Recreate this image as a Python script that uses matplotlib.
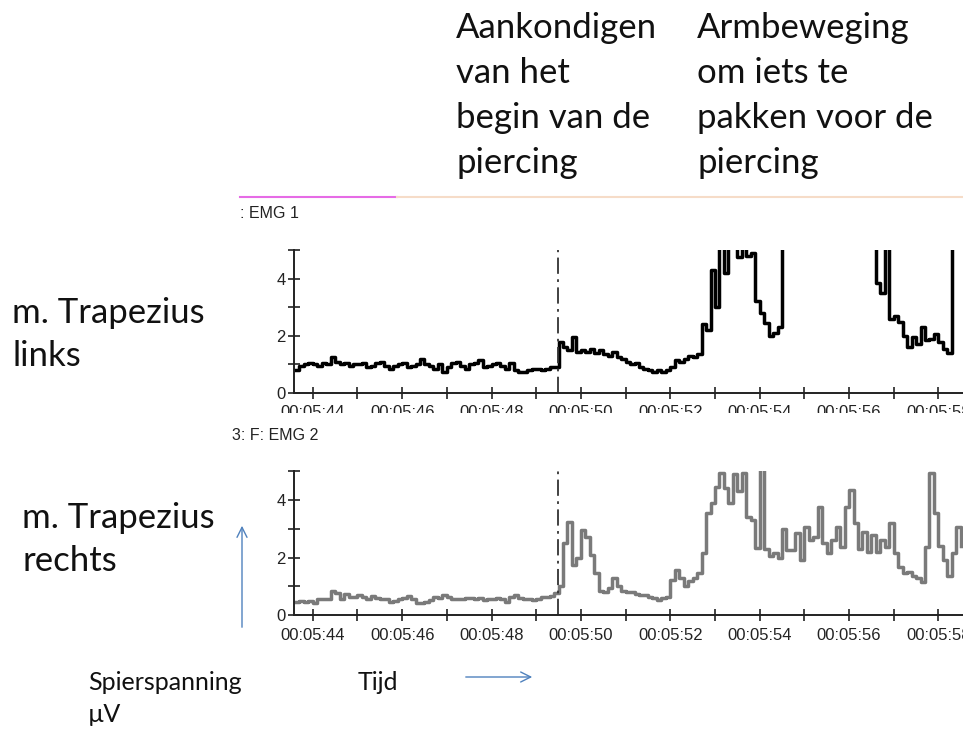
import numpy as np
import matplotlib.pyplot as plt
from matplotlib.ticker import FixedLocator, FuncFormatter
from matplotlib.patches import Rectangle, FancyArrowPatch

# -------------------------
# DATA (seconds after 00:05:00, 0.1 s per sample)
# -------------------------

t_start = 43.6
t_step = 0.1

# m. Trapezius links (EMG 1), values above 5 are off scale
emg1 = [0.8, 0.95, 1.0, 1.05,
        1.0, 0.95, 1.05, 1.0, 1.25, 1.1, 1.0, 1.05, 0.95, 1.0,
        1.0, 1.05, 0.9, 0.95, 1.05, 1.1, 0.95, 0.85, 0.95, 1.0,
        1.05, 0.9, 0.95, 1.0, 1.2, 1.0, 0.95, 0.85, 1.0, 0.75,
        0.9, 1.05, 1.1, 0.95, 0.85, 1.0, 1.05, 1.15, 0.9, 0.95,
        1.0, 1.05, 0.95, 0.85, 1.05, 0.8, 0.75, 0.75, 0.8, 0.85,
        0.85, 0.8, 0.85, 0.9, 0.9, 1.8, 1.6, 1.5, 1.95, 1.45,
        1.5, 1.45, 1.55, 1.4, 1.5, 1.35, 1.3, 1.45, 1.25, 1.2,
        1.1, 1.0, 1.05, 0.9, 0.85, 0.8, 0.75, 0.8, 0.75, 0.8,
        0.9, 1.15, 1.1, 1.2, 1.3, 1.25, 1.35, 2.4, 2.2, 4.3,
        3.0, 6.0, 4.2, 6.0, 6.0, 4.75, 6.0, 4.8, 4.9, 3.2,
        2.8, 2.45, 2.0, 2.1, 2.3, 6.0, 6.0, 6.0, 6.0, 6.0,
        6.0, 6.0, 6.0, 6.0, 6.0, 6.0, 6.0, 6.0, 6.0, 6.0,
        6.0, 6.0, 6.0, 6.0, 6.0, 6.0, 3.85, 3.5, 6.0, 2.6,
        2.7, 2.5, 2.0, 1.6, 1.95, 1.7, 2.3, 1.85, 1.9, 2.05,
        1.8, 1.55, 1.4, 6.0, 6.0, 6.0]

# m. Trapezius rechts (EMG 2)
emg2 = [0.45, 0.5, 0.45, 0.5,
        0.41, 0.55, 0.55, 0.55, 0.85, 0.75, 0.55, 0.73, 0.64, 0.62,
        0.68, 0.62, 0.57, 0.66, 0.6, 0.57, 0.55, 0.46, 0.5, 0.57,
        0.6, 0.66, 0.55, 0.41, 0.41, 0.45, 0.52, 0.64, 0.6, 0.68,
        0.62, 0.57, 0.55, 0.57, 0.6, 0.58, 0.55, 0.58, 0.52, 0.55,
        0.57, 0.6, 0.55, 0.46, 0.62, 0.7, 0.58, 0.55, 0.55, 0.52,
        0.55, 0.64, 0.62, 0.66, 0.78, 1.0, 2.5, 3.25, 1.75, 2.0,
        2.95, 2.7, 2.1, 1.45, 0.85, 0.8, 0.95, 1.28, 1.0, 0.85,
        0.81, 0.8, 0.72, 0.7, 0.68, 0.64, 0.6, 0.52, 0.6, 0.64,
        1.22, 1.57, 1.3, 1.0, 1.2, 1.28, 1.45, 2.15, 3.54, 3.89,
        4.46, 4.93, 4.4, 3.9, 4.9, 4.3, 4.95, 3.42, 3.3, 2.32,
        6.0, 2.3, 2.05, 2.15, 2.0, 3.0, 2.26, 2.26, 2.84, 1.92,
        3.07, 2.6, 2.72, 3.77, 2.5, 2.15, 2.61, 3.07, 2.38, 3.77,
        4.35, 3.19, 2.3, 2.9, 2.2, 2.8, 2.2, 2.6, 2.38, 3.19,
        2.15, 1.68, 1.45, 1.5, 1.35, 1.28, 1.16, 2.38, 4.95, 3.54,
        2.4, 1.92, 1.34, 2.15, 3.07, 2.4]

marker_time = 49.48
x_major = [44, 46, 48, 50, 52, 54, 56, 58]
x_minor = [45, 47, 49, 51, 53, 55, 57]
y_major = [0, 2, 4]
y_minor = [1, 3, 5]

event_texts = ["Aankondigen\nvan het\nbegin van de\npiercing",
               "Armbeweging\nom iets te\npakken voor de\npiercing"]
muscle_texts = ["m. Trapezius\nlinks", "m. Trapezius\nrechts"]
channel_titles = [": EMG 1", "3: F: EMG 2"]

t = t_start + t_step * np.arange(len(emg1))

# -------------------------
# FIGURE
# -------------------------

W, H = 963, 730
fig = plt.figure(figsize=(W / 100, H / 100), dpi=100)


def fx(px):
    return px / W


def fy(py):
    return 1 - py / H


def px_text(x, y, s, size, step, **kw):
    # one text per line, y is the centre of the first line
    for i, line in enumerate(s.split("\n")):
        fig.text(fx(x), fy(y + i * step), line, fontsize=size,
                 family="Lato", va="center", ha="left", color="#111111", **kw)


def emg_axes(bottom_px, top_px, values, color, lw):
    ax = fig.add_axes([fx(294), fy(bottom_px), 1 - fx(294),
                       fy(top_px) - fy(bottom_px)])
    ax.step(t, values, where="post", color=color, lw=lw)
    ax.set_xlim(43.58, 58.55)
    ax.set_ylim(0, 5)
    ax.axvline(marker_time, color="#333333", lw=1.3,
               linestyle=(0, (9, 3, 1.5, 3)))
    for s in ["top", "right"]:
        ax.spines[s].set_visible(False)
    for s in ["left", "bottom"]:
        ax.spines[s].set_linewidth(1.4)
        ax.spines[s].set_color("#222222")
    ax.xaxis.set_major_locator(FixedLocator(x_major))
    ax.xaxis.set_minor_locator(FixedLocator(x_minor))
    ax.yaxis.set_major_locator(FixedLocator(y_major))
    ax.yaxis.set_minor_locator(FixedLocator(y_minor))
    ax.xaxis.set_major_formatter(
        FuncFormatter(lambda v, p: "00:05:%02d" % int(round(v))))
    ax.tick_params(which="both", direction="inout", length=8, width=1.2,
                   color="#222222", labelsize=12)
    ax.tick_params(axis="x", pad=5)
    ax.tick_params(axis="y", pad=2)
    for lab in ax.get_xticklabels() + ax.get_yticklabels():
        lab.set_family("Liberation Sans")
        lab.set_color("#222222")
    ax.patch.set_alpha(0)
    return ax


ax1 = emg_axes(393, 250, emg1, "black", 2.5)
ax2 = emg_axes(615, 471.25, emg2, "#7a7a7a", 2.5)
ax2.set_zorder(2)

# white band cutting off the lower half of the upper time labels
fig.patches.append(Rectangle((fx(230), fy(468)), 1, fy(413) - fy(468),
                             transform=fig.transFigure, facecolor="white",
                             edgecolor="none", zorder=1))

# channel header line
fig.add_artist(plt.Line2D([fx(240), fx(397)], [fy(197), fy(197)],
                          color="#e66be6", lw=1.5))
fig.add_artist(plt.Line2D([fx(397), fx(963)], [fy(197), fy(197)],
                          color="#f6dcc8", lw=1.5))

fig.text(fx(240), fy(213), channel_titles[0], fontsize=11.5,
         family="Liberation Sans", va="center", color="#222222")
fig.text(fx(232), fy(436), channel_titles[1], fontsize=11.5,
         family="Liberation Sans", va="center", color="#222222", zorder=4)

# annotations
px_text(456, 28, event_texts[0], 25, 45)
px_text(697, 28, event_texts[1], 25, 45)
px_text(12, 313, muscle_texts[0], 25, 43)
px_text(22, 518, muscle_texts[1], 25, 43, zorder=4)
px_text(88, 683, "Spierspanning\nµV", 18, 32)
px_text(358, 683, "Tijd", 18, 32)

arrow_color = "#4f81bd"
fig.add_artist(FancyArrowPatch((fx(463), fy(677)), (fx(535), fy(677)),
                               transform=fig.transFigure, arrowstyle="->",
                               mutation_scale=18, color=arrow_color, lw=1))
fig.add_artist(FancyArrowPatch((fx(242), fy(630)), (fx(242), fy(523)),
                               transform=fig.transFigure, arrowstyle="->",
                               mutation_scale=18, color=arrow_color, lw=1))

fig.savefig("out.png", dpi=100)
